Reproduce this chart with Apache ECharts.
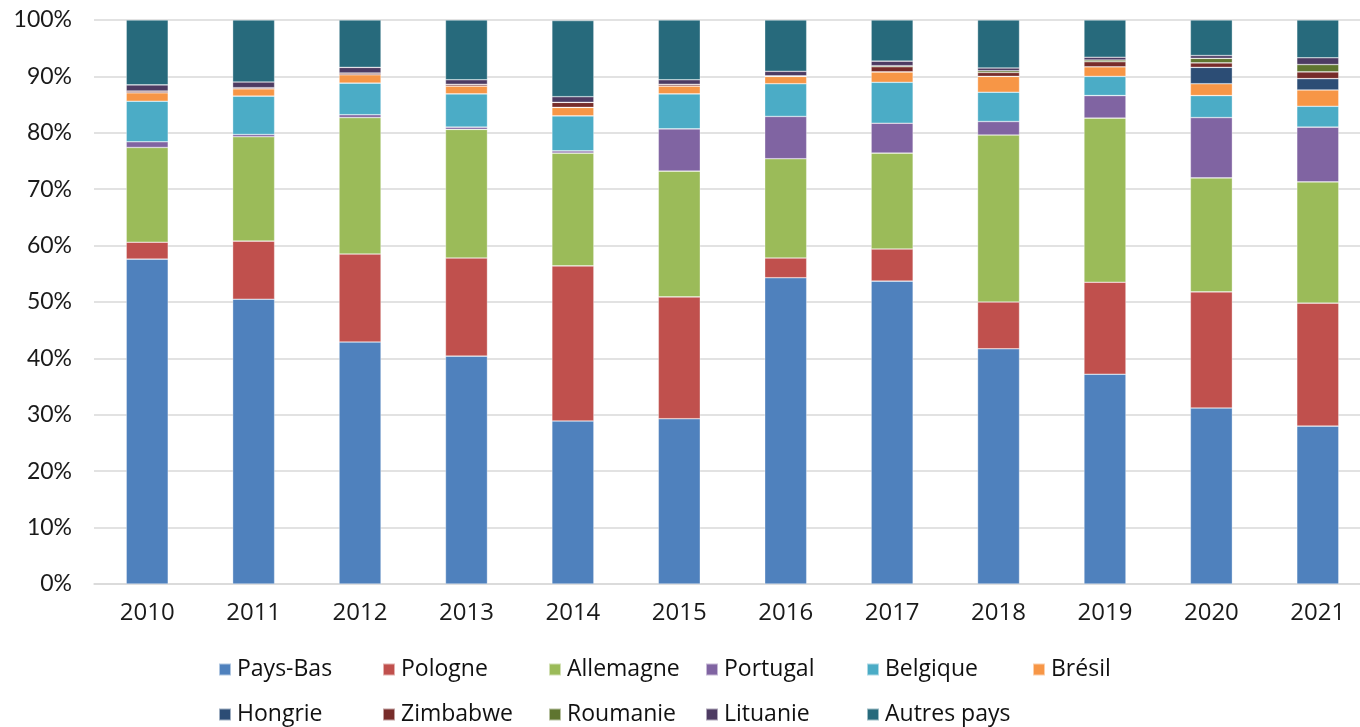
<!DOCTYPE html>
<html>
<head>
<meta charset="utf-8">
<script src="https://cdn.jsdelivr.net/npm/echarts@6/dist/echarts.min.js"></script>
<style>
html,body{margin:0;padding:0;background:#fff;}
#chart{width:1360px;height:727px;}
</style>
</head>
<body>
<div id="chart"></div>
<script>
// parts en % par année
var years = ['2010','2011','2012','2013','2014','2015','2016','2017','2018','2019','2020','2021'];
var paysBas   = [57.6, 50.5, 42.9, 40.4, 28.9, 29.3, 54.3, 53.7, 41.7, 37.2, 31.2, 28.0];
var pologne   = [3.0, 10.3, 15.6, 17.4, 27.5, 21.6, 3.5, 5.7, 8.3, 16.3, 20.6, 21.8];
var allemagne = [16.8, 18.5, 24.2, 22.8, 20.0, 22.3, 17.6, 17.0, 29.6, 29.1, 20.2, 21.5];
var portugal  = [1.0, 0.4, 0.5, 0.4, 0.4, 7.5, 7.5, 5.3, 2.4, 4.0, 10.7, 9.7];
var belgique  = [7.2, 6.8, 5.6, 5.9, 6.2, 6.2, 5.8, 7.25, 5.2, 3.4, 3.9, 3.7];
var bresil    = [1.5, 1.3, 1.5, 1.4, 1.5, 1.4, 1.3, 1.85, 2.8, 1.7, 2.1, 2.9];
var hongrie   = [0, 0, 0, 0, 0, 0, 0, 0, 0, 0, 2.9, 2.0];
var zimbabwe  = [0.3, 0.2, 0.3, 0.3, 0.9, 0.3, 0.1, 0.9, 0.7, 0.9, 0.8, 1.2];
var roumanie  = [0, 0, 0, 0, 0, 0, 0, 0.2, 0.3, 0.3, 0.8, 1.3];
var lituanie  = [1.1, 1.0, 1.0, 0.8, 1.0, 0.8, 0.8, 0.8, 0.5, 0.5, 0.5, 1.2];
var autres    = [11.5, 11.0, 8.4, 10.6, 13.5, 10.6, 9.1, 7.3, 8.5, 6.6, 6.3, 6.7];

var names  = ['Pays-Bas','Pologne','Allemagne','Portugal','Belgique','Brésil','Hongrie','Zimbabwe','Roumanie','Lituanie','Autres pays'];
var values = [paysBas, pologne, allemagne, portugal, belgique, bresil, hongrie, zimbabwe, roumanie, lituanie, autres];
var colors = ['#4F81BD','#C0504D','#9BBB59','#8064A2','#4BACC6','#F79646','#2C4D75','#772C2A','#5F7530','#4D3B62','#276A7C'];

var myChart = echarts.init(document.getElementById('chart'));

var series = names.map(function(n, i){
	return {
		name : n,
		type : 'bar',
		stack : 'total',
		barWidth : 42,
		data : values[i],
		itemStyle : {
			color : colors[i],
			borderColor : 'rgba(255,255,255,0.55)',
			borderWidth : 0.6
		}
	};
});

// légende en grille : 6 colonnes, 2 lignes
var colX = [218, 382, 548, 705, 866, 1032];
var legends = names.map(function(n, i){
	return {
		data : [n],
		left : colX[i % 6],
		top : i < 6 ? 658 : 703,
		padding : 0,
		icon : 'rect',
		itemWidth : 12,
		itemHeight : 12,
		itemGap : 0,
		textStyle : {
			fontFamily : '"Open Sans", sans-serif',
			fontSize : 23,
			color : '#111',
			padding : [0, 0, 0, 1]
		},
		selectedMode : false
	};
});

var option = {
	animation : false,
	color : colors,
	legend : legends,
	grid : {
		left : 94,
		width : 1277,
		top : 20,
		bottom : 143,
		outerBoundsMode : 'none',
		containLabel : false
	},
	xAxis : {
		type : 'category',
		data : years,
		axisTick : { show : false },
		axisLine : { lineStyle : { color : '#d9d9d9', width : 1.5 } },
		axisLabel : {
			margin : 17,
			fontFamily : '"Open Sans", sans-serif',
			fontSize : 24,
			color : '#1a1a1a'
		}
	},
	yAxis : {
		type : 'value',
		min : 0,
		max : 100,
		interval : 10,
		axisLine : { show : false },
		axisTick : { show : false },
		axisLabel : {
			margin : 22,
			formatter : '{value}%',
			fontFamily : 'Lato, sans-serif',
			fontSize : 23,
			color : '#1a1a1a'
		},
		splitLine : { lineStyle : { color : '#d9d9d9', width : 1.5 } }
	},
	series : series
};

myChart.setOption(option);
</script>
</body>
</html>
